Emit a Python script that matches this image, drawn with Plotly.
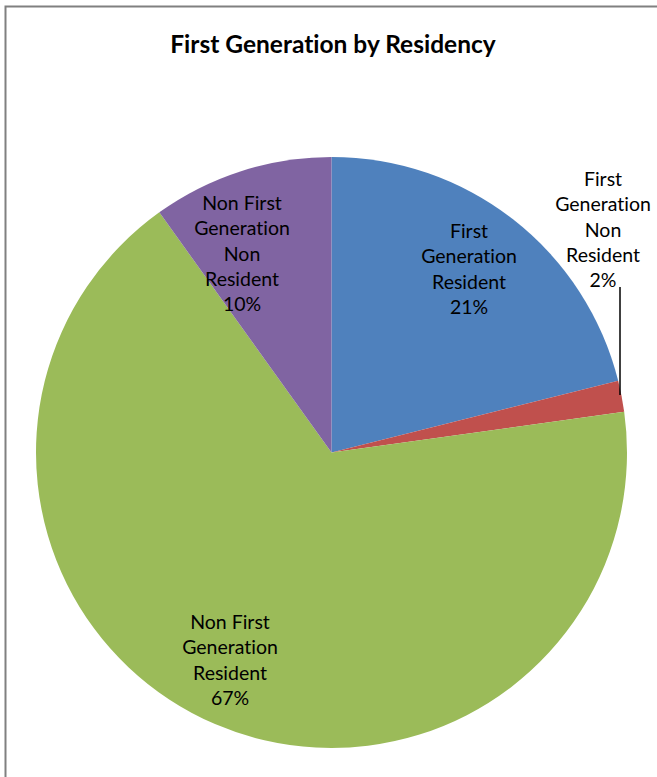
import plotly.graph_objects as go

# Data
categories = ["First Generation Resident", "First Generation Non Resident",
              "Non First Generation Resident", "Non First Generation Non Resident"]
label_text = ["First<br>Generation<br>Resident", "First<br>Generation<br>Non<br>Resident",
              "Non First<br>Generation<br>Resident", "Non First<br>Generation<br>Non<br>Resident"]
values = [21.1, 1.7, 67.3, 9.9]
colors = ["#4F81BD", "#C0504D", "#9BBB59", "#8064A2"]

W, H = 657, 777
FONT = "Lato"

fig = go.Figure()
fig.add_trace(go.Pie(
    labels=categories, values=values, sort=False, direction="clockwise", rotation=0,
    marker=dict(colors=colors, line=dict(width=0)),
    textinfo="none", hoverinfo="label+percent", showlegend=False,
    domain=dict(x=[36 / W, 627 / W], y=[1 - 748 / H, 1 - 157 / H]),
))

total = sum(values)
label_pos = [(469, 268), (603, 229), (230, 659), (242, 253)]
annotations = []
for txt, v, (px, py) in zip(label_text, values, label_pos):
    annotations.append(dict(
        x=px / W, y=1 - py / H, xref="paper", yref="paper",
        text=f"{txt}<br>{round(v / total * 100)}%", showarrow=False,
        font=dict(family=FONT, size=19.5, color="#000000"),
        xanchor="center", yanchor="middle", align="center",
    ))

fig.update_layout(
    width=W, height=H,
    margin=dict(l=0, r=0, t=0, b=0),
    paper_bgcolor="white", plot_bgcolor="white",
    title=dict(text="<b>First Generation by Residency</b>", x=333 / W, xanchor="center",
               y=1 - 44 / H, yanchor="middle",
               font=dict(family=FONT, size=24.5, color="#000000")),
    annotations=annotations,
    shapes=[
        dict(type="rect", xref="paper", yref="paper", x0=5.5 / W, x1=700 / W,
             y0=-0.1, y1=1 - 6.5 / H, line=dict(color="#808080", width=2), layer="below"),
        dict(type="line", xref="paper", yref="paper", x0=620 / W, x1=620 / W,
             y0=1 - 287 / H, y1=1 - 395 / H, line=dict(color="#000000", width=1.5)),
    ],
)

post = ("document.body.style.margin='0';document.body.style.overflow='hidden';"
        "var s=document.createElement('style');"
        "s.textContent='text{font-variant-ligatures:none !important;font-feature-settings:\"liga\" 0 !important;}';"
        "document.head.appendChild(s);")
fig.write_html("out.html", post_script=post, config={"displayModeBar": False})
